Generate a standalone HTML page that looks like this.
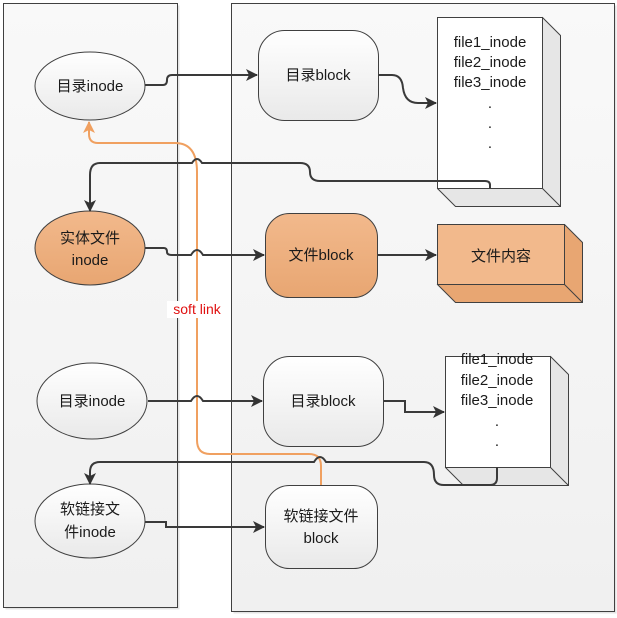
<!DOCTYPE html>
<html><head><meta charset="utf-8"><style>
html,body{margin:0;padding:0;background:#fff}
svg{display:block}
text{font-family:"Liberation Sans","Noto Sans CJK SC",sans-serif;font-size:15px;fill:#1a1a1a}
</style></head><body>
<svg width="617" height="618" viewBox="0 0 617 618" xmlns="http://www.w3.org/2000/svg">
<defs>
<linearGradient id="pg" x1="0" y1="0" x2="0" y2="1"><stop offset="0" stop-color="#f9f9f9"/><stop offset="1" stop-color="#f0f0f0"/></linearGradient>
<linearGradient id="wg" x1="0" y1="0" x2="0" y2="1"><stop offset="0" stop-color="#ffffff"/><stop offset="1" stop-color="#e9e9e9"/></linearGradient>
<linearGradient id="og" x1="0" y1="0" x2="0" y2="1"><stop offset="0" stop-color="#f2b98c"/><stop offset="1" stop-color="#e8a672"/></linearGradient>
<marker id="ah" markerWidth="12" markerHeight="12" refX="11" refY="6" orient="auto" markerUnits="userSpaceOnUse"><path d="M0,0 L12,6 L0,12 L3,6 z" fill="#333"/></marker>
<marker id="ao" markerWidth="12" markerHeight="12" refX="11" refY="6" orient="auto" markerUnits="userSpaceOnUse"><path d="M0,0 L12,6 L0,12 L3,6 z" fill="#f0a060"/></marker>
</defs>
<!-- panels -->
<rect x="5.5" y="5.5" width="174" height="604" fill="#e4e4e4"/>
<rect x="233.5" y="5.5" width="383" height="608" fill="#e4e4e4"/>
<rect x="3.5" y="3.5" width="174" height="604" fill="url(#pg)" stroke="#404040"/>
<rect x="231.5" y="3.5" width="383" height="608" fill="url(#pg)" stroke="#404040"/>

<!-- ellipses -->
<ellipse cx="90" cy="86" rx="55" ry="34" fill="url(#wg)" stroke="#404040"/>
<text x="90" y="91" text-anchor="middle">目录inode</text>
<ellipse cx="90" cy="248" rx="55" ry="37" fill="url(#og)" stroke="#404040"/>
<text x="90" y="243" text-anchor="middle">实体文件</text>
<text x="90" y="265" text-anchor="middle">inode</text>
<ellipse cx="92" cy="401" rx="55" ry="38" fill="url(#wg)" stroke="#404040"/>
<text x="92" y="406" text-anchor="middle">目录inode</text>
<ellipse cx="90" cy="521" rx="55" ry="37" fill="url(#wg)" stroke="#404040"/>
<text x="90" y="514" text-anchor="middle">软链接文</text>
<text x="90" y="537" text-anchor="middle">件inode</text>

<!-- blocks -->
<rect x="258.5" y="30.5" width="120" height="90" rx="26" fill="url(#wg)" stroke="#404040"/>
<text x="318" y="80" text-anchor="middle">目录block</text>
<rect x="265.5" y="213.5" width="112" height="84" rx="24" fill="url(#og)" stroke="#404040"/>
<text x="321" y="260" text-anchor="middle">文件block</text>
<rect x="263.5" y="356.5" width="120" height="90" rx="26" fill="url(#wg)" stroke="#404040"/>
<text x="323" y="406" text-anchor="middle">目录block</text>
<rect x="265.5" y="485.5" width="112" height="83" rx="24" fill="url(#wg)" stroke="#404040"/>
<text x="321" y="521" text-anchor="middle">软链接文件</text>
<text x="321" y="543" text-anchor="middle">block</text>

<!-- 3D list 1 -->
<path d="M542.5,17.5 L560.5,35.5 L560.5,206.5 L455.5,206.5 L437.5,188.5 Z" fill="#e6e6e6" stroke="#404040"/>
<line x1="542.5" y1="188.5" x2="560.5" y2="206.5" stroke="#404040"/>
<rect x="437.5" y="17.5" width="105" height="171" fill="#fff" stroke="#404040"/>
<text x="490" y="47" text-anchor="middle">file1_inode</text>
<text x="490" y="67" text-anchor="middle">file2_inode</text>
<text x="490" y="87" text-anchor="middle">file3_inode</text>
<text x="490" y="108" text-anchor="middle">.</text>
<text x="490" y="128" text-anchor="middle">.</text>
<text x="490" y="148" text-anchor="middle">.</text>

<!-- 文件内容 -->
<path d="M564.5,224.5 L582.5,242.5 L582.5,302.5 L455.5,302.5 L437.5,284.5 Z" fill="#e8a672" stroke="#404040"/>
<line x1="564.5" y1="284.5" x2="582.5" y2="302.5" stroke="#404040"/>
<rect x="437.5" y="224.5" width="127" height="60" fill="#f2b98c" stroke="#404040"/>
<text x="501" y="261" text-anchor="middle">文件内容</text>

<!-- 3D list 2 -->
<path d="M550.5,356.5 L568.5,374.5 L568.5,485.5 L463.5,485.5 L445.5,467.5 Z" fill="#e6e6e6" stroke="#404040"/>
<line x1="550.5" y1="467.5" x2="568.5" y2="485.5" stroke="#404040"/>
<rect x="445.5" y="356.5" width="105" height="111" fill="#fff" stroke="#404040"/>
<text x="497" y="364" text-anchor="middle">file1_inode</text>
<text x="497" y="385" text-anchor="middle">file2_inode</text>
<text x="497" y="405" text-anchor="middle">file3_inode</text>
<text x="497" y="426" text-anchor="middle">.</text>
<text x="497" y="446" text-anchor="middle">.</text>

<!-- orange soft link -->
<path d="M321,485 L321,466 Q321,454 309,454 L210,454 Q197,454 197,440 L197,172 Q197,143 175,143 L98,143 Q89,143 89,134 L89,122" fill="none" stroke="#f0a060" stroke-width="2" marker-end="url(#ao)"/>
<rect x="167" y="301" width="60" height="17" fill="#fff"/>
<text x="197" y="314" text-anchor="middle" style="fill:#e01010;font-size:14px">soft link</text>

<!-- dark connectors -->
<g fill="none" stroke="#3a3a3a" stroke-width="2">
<path d="M145,85 L163,85 Q167,85 167,80 Q167,75 172,75 L257,75" marker-end="url(#ah)"/>
<path d="M378,75 L392,75 Q402,75 403,88 Q405,103 418,103 L436,103" marker-end="url(#ah)"/>
<path d="M490,188 L490,185 Q490,181 485,181 L320,181 Q310,181 310,172 Q310,163 300,163 L202,163 Q197,155 192,163 L100,163 Q90,163 90,175 L90,211" marker-end="url(#ah)"/>
<path d="M145,248 L164,248 Q167,248 167,252 Q167,255 172,255 L191,255 Q197,245 203,255 L264,255" marker-end="url(#ah)"/>
<path d="M378,255 L436,255" marker-end="url(#ah)"/>
<path d="M148,401 L191,401 Q197,391 203,401 L262,401" marker-end="url(#ah)"/>
<path d="M384,401 L405,401 L405,412 L444,412" marker-end="url(#ah)"/>
<path d="M497,467 L497,478 Q497,485 490,485 L444,485 Q434,485 434,475 Q434,462 424,462 L326,462 Q320,452 314,462 L100,462 Q90,462 90,472 L90,484" marker-end="url(#ah)"/>
<path d="M145,522 L166,522 L166,527 L264,527" marker-end="url(#ah)"/>
</g>
</svg>
</body></html>
